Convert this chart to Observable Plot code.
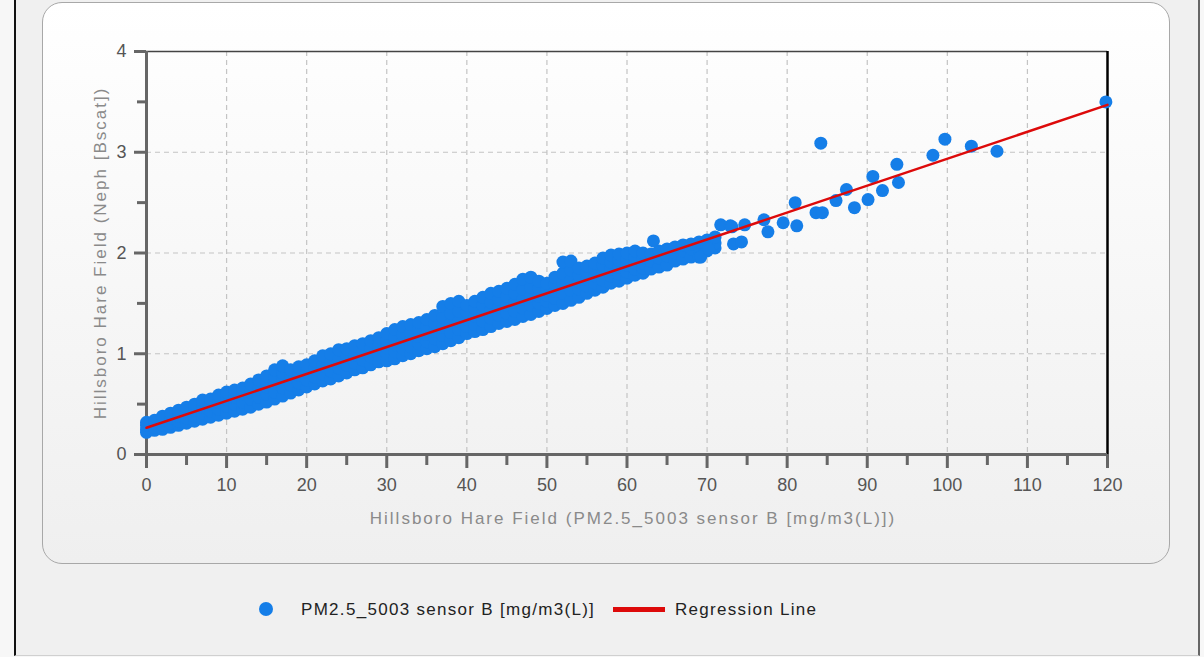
<!DOCTYPE html>
<html><head><meta charset="utf-8">
<script src="https://cdn.jsdelivr.net/npm/d3@7"></script>
<script src="https://cdn.jsdelivr.net/npm/@observablehq/plot@0.6"></script>
<style>
html,body{margin:0;padding:0;background:#f7f7f7;}
body{width:1204px;height:657px;position:relative;overflow:hidden;font-family:"Liberation Sans",Arial,sans-serif;}
#frame{position:absolute;left:14px;top:0;width:1182px;height:655px;background:#f0f0f0;border-left:2px solid #111;border-right:2px solid #666;border-bottom:1px solid #d0d0d0;}
#panel{position:absolute;left:42px;top:2px;width:1126px;height:560px;border:1.5px solid #a8a8a8;border-radius:20px;background:linear-gradient(#ffffff,#efefef);}
#chart{position:absolute;left:0;top:0;}
#chart svg g[aria-label="text"] text{letter-spacing:2px;}
.leg{position:absolute;top:599px;line-height:22px;font-size:17px;letter-spacing:1.3px;color:#222;white-space:nowrap;}
.legdot{position:absolute;left:259px;top:602px;width:14px;height:14px;border-radius:50%;background:#157ee8;}
.legline{position:absolute;left:613px;top:607px;width:52px;height:5px;background:#dd0a0a;}
</style></head>
<body>
<div id="frame"></div>
<div id="panel"></div>
<div id="chart"></div>
<div class="legdot"></div>
<div class="leg" id="leg1" style="left:301px"></div>
<div class="legline"></div>
<div class="leg" id="leg2" style="left:675px"></div>
<script>
// ---- data ----
const seriesName = "PM2.5_5003 sensor B [mg/m3(L)]";
const regressionName = "Regression Line";
const xTitle = "Hillsboro Hare Field (PM2.5_5003 sensor B [mg/m3(L)])";
const yTitle = "Hillsboro Hare Field (Neph [Bscat])";
const xTicks = [0,10,20,30,40,50,60,70,80,90,100,110,120];
const xMinorTicks = [5,15,25,35,45,55,65,75,85,95,105,115];
const yTicks = [0,1,2,3,4];
const yMinorTicks = [0.5,1.5,2.5,3.5];

// dense band: [x, y values...]
const band0to20 = [
  [0,0.22,0.25,0.29,0.32],[1,0.24,0.27,0.31,0.34],[2,0.25,0.29,0.34,0.38],
  [3,0.27,0.31,0.36,0.41],[4,0.29,0.33,0.38,0.44],[5,0.31,0.36,0.41,0.47],
  [6,0.33,0.38,0.44,0.50],[7,0.35,0.41,0.47,0.54],[8,0.37,0.43,0.50,0.55],
  [9,0.39,0.45,0.52,0.59],[10,0.41,0.48,0.55,0.62],[11,0.43,0.50,0.57,0.64],
  [12,0.45,0.52,0.60,0.66],[13,0.47,0.55,0.62,0.70],[14,0.50,0.57,0.65,0.74],
  [15,0.52,0.60,0.67,0.72,0.78],[16,0.55,0.62,0.71,0.77,0.84],[17,0.58,0.66,0.75,0.81,0.88],
  [18,0.61,0.69,0.77,0.84],[19,0.64,0.71,0.79,0.87],[20,0.67,0.74,0.82,0.89]
];
const band21to40 = [
  [21,0.70,0.77,0.85,0.93],[22,0.73,0.80,0.88,0.98],[23,0.75,0.83,0.91,1.00],
  [24,0.78,0.86,0.94,1.04],[25,0.81,0.89,0.97,1.05],[26,0.84,0.91,0.99,1.08],
  [27,0.86,0.94,1.02,1.10],[28,0.89,0.97,1.05,1.13],[29,0.92,0.99,1.07,1.16],
  [30,0.93,1.00,1.06,1.13,1.20],[31,0.95,1.02,1.09,1.16,1.24],[32,0.98,1.05,1.12,1.19,1.27],
  [33,1.00,1.07,1.14,1.21,1.29],[34,1.03,1.10,1.17,1.24,1.31],[35,1.05,1.12,1.19,1.27,1.34],
  [36,1.07,1.15,1.22,1.30,1.38],[37,1.10,1.18,1.26,1.36,1.47],[38,1.13,1.21,1.30,1.40,1.50],
  [39,1.16,1.24,1.32,1.42,1.52],[40,1.20,1.27,1.34,1.41,1.48]
];
const band41to62 = [
  [41,1.22,1.29,1.37,1.45,1.52],[42,1.24,1.32,1.40,1.48,1.56],[43,1.27,1.35,1.43,1.51,1.60],
  [44,1.30,1.38,1.46,1.54,1.62],[45,1.32,1.40,1.48,1.57,1.65],[46,1.34,1.42,1.51,1.60,1.69],
  [47,1.37,1.45,1.54,1.64,1.74],[48,1.39,1.48,1.57,1.66,1.76],[49,1.42,1.50,1.57,1.65,1.72],
  [50,1.45,1.52,1.58,1.64,1.70],[51,1.48,1.55,1.62,1.69,1.76],[52,1.50,1.60,1.70,1.80,1.91],
  [53,1.53,1.63,1.73,1.83,1.92],[54,1.56,1.64,1.71,1.78,1.85],[55,1.60,1.67,1.74,1.81,1.87],
  [56,1.63,1.70,1.77,1.84,1.90],[57,1.66,1.73,1.80,1.88,1.95],[58,1.70,1.77,1.84,1.91,1.98],
  [59,1.72,1.79,1.86,1.93,1.99],[60,1.75,1.81,1.88,1.94,2.00],[61,1.78,1.84,1.90,1.96,2.02],
  [62,1.80,1.85,1.90,1.95,2.00]
];
const band63to71 = [
  [63,1.84,1.92,1.99],[64,1.86,1.95,2.02],[65,1.88,1.97,2.04],
  [66,1.92,2.00,2.06],[67,1.94,2.02,2.08],[68,1.96,2.04,2.09],
  [69,1.96,2.06,2.11],[70,2.02,2.08,2.13],[71,2.05,2.10,2.16]
];
// scattered points [x, y]
const outliers = [
  [63.3,2.12],[69.2,1.96],[70.2,2.04],[71.7,2.28],[72.9,2.27],[73.1,2.26],
  [73.3,2.09],[74.3,2.11],[74.7,2.28],[77.1,2.33],[77.6,2.21],[79.5,2.30],
  [81.2,2.27],[81.0,2.50],[83.6,2.40],[84.4,2.40],[84.2,3.09],[86.1,2.52],
  [87.4,2.63],[88.4,2.45],[90.1,2.53],[90.7,2.76],[91.9,2.62],[93.7,2.88],
  [93.9,2.70],[98.2,2.97],[99.7,3.13],[103.0,3.06],[106.2,3.01],[119.8,3.50]
];
// regression line endpoints
const regX = [0, 120];
const regY = [0.265, 3.47];

// ---- build tables ----
const rows = [...band0to20, ...band21to40, ...band41to62, ...band63to71];
const points = [];
for (const [x, ...ys] of rows) for (const y of ys) points.push({x, y});
for (const [x, y] of outliers) points.push({x, y});
const regression = regX.map((x, i) => ({x, y: regY[i]}));

const tickColor = "#666";
const labelColor = "#555";
const font = "Liberation Sans, Arial, sans-serif";

const chart = Plot.plot({
  width: 1204,
  height: 560,
  marginLeft: 146,
  marginRight: 97,
  marginTop: 51,
  marginBottom: 106,
  style: {fontFamily: font, background: "transparent", overflow: "visible"},
  x: {domain: [0, 120]},
  y: {domain: [0, 4]},
  marks: [
    Plot.gridX(xTicks.slice(1, -1), {stroke: "#c4c4c4", strokeOpacity: 1, strokeWidth: 1.2, strokeDasharray: "5,4"}),
    Plot.gridY(yTicks.slice(1, -1), {stroke: "#c4c4c4", strokeOpacity: 1, strokeWidth: 1.2, strokeDasharray: "5,4"}),
    Plot.ruleY([4], {stroke: "#444", strokeWidth: 1.5}),
    Plot.ruleX([120], {stroke: "#000", strokeWidth: 2.5}),
    Plot.axisX(xMinorTicks, {tickSize: 11, strokeWidth: 3, stroke: tickColor, tickFormat: () => "", label: null}),
    Plot.axisX(xTicks, {tickSize: 14, tickPadding: 10, strokeWidth: 3, stroke: tickColor, fill: labelColor, fontSize: 18, tickFormat: d3.format("d"), label: null}),
    Plot.axisY(yMinorTicks, {tickSize: 9, strokeWidth: 3, stroke: tickColor, tickFormat: () => "", label: null}),
    Plot.axisY(yTicks, {tickSize: 12, tickPadding: 8, strokeWidth: 3, stroke: tickColor, fill: labelColor, fontSize: 18, tickFormat: d3.format("d"), label: null}),
    Plot.ruleY([0], {stroke: tickColor, strokeWidth: 3}),
    Plot.ruleX([0], {stroke: tickColor, strokeWidth: 3}),
    Plot.dot(points, {x: "x", y: "y", r: 6.5, fill: "#157ee8", stroke: null}),
    Plot.line(regression, {x: "x", y: "y", stroke: "#dd0a0a", strokeWidth: 2.5}),
    Plot.text([xTitle], {text: d => d, frameAnchor: "bottom", dx: 6, dy: 64, fontSize: 17, fill: "#8a8a8a", textAnchor: "middle", lineAnchor: "middle"}),
    Plot.text([yTitle], {text: d => d, frameAnchor: "left", dx: -46, rotate: -90, fontSize: 17, fill: "#8a8a8a", textAnchor: "middle", lineAnchor: "middle"})
  ]
});
document.getElementById("chart").appendChild(chart);
document.getElementById("leg1").textContent = seriesName;
document.getElementById("leg2").textContent = regressionName;
</script>
</body></html>
